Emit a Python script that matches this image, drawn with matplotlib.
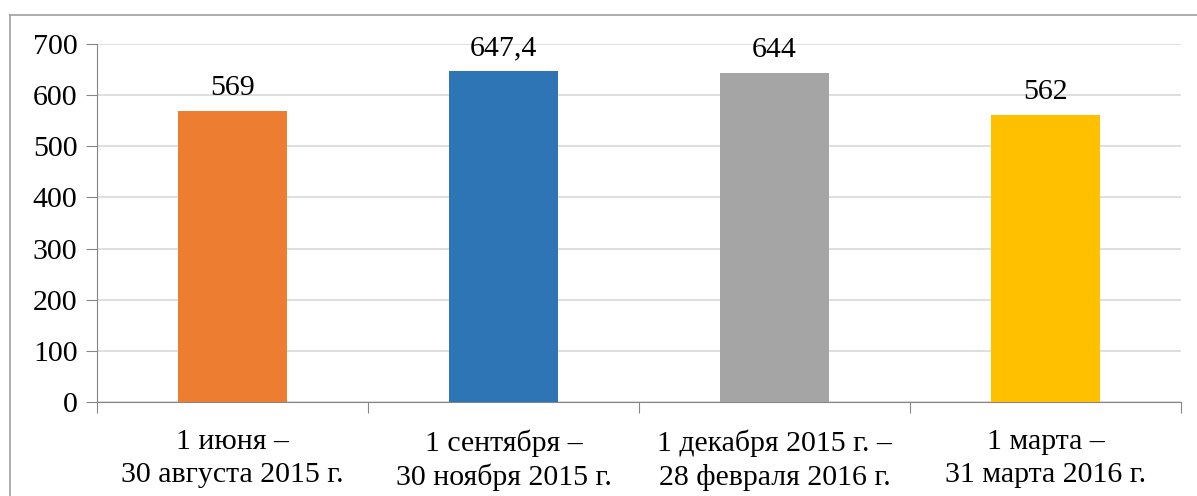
import matplotlib.pyplot as plt
from matplotlib.lines import Line2D

periods = ["1 июня –\n30 августа 2015 г.",
           "1 сентября –\n30 ноября 2015 г.",
           "1 декабря 2015 г. –\n28 февраля 2016 г.",
           "1 марта –\n31 марта 2016 г."]
values = [569, 647.4, 644, 562]
value_labels = ["569", "647,4", "644", "562"]
bar_colors = ["#ED7D31", "#2E75B6", "#A5A5A5", "#FFC000"]

plt.rcParams['font.family'] = 'serif'
plt.rcParams['font.serif'] = ['Liberation Serif', 'Times New Roman', 'DejaVu Serif']

fig = plt.figure(figsize=(11.97, 4.96), dpi=100)
ax = fig.add_axes([0.081, 0.1895, 0.9056, 0.7218])

x = range(len(values))
bars = ax.bar(x, values, width=0.4, color=bar_colors, zorder=3)

for b, lab in zip(bars, value_labels):
    ax.annotate(lab, (b.get_x() + b.get_width() / 2, b.get_height()),
                xytext=(0, 7), textcoords='offset points',
                ha='center', va='bottom', fontsize=21.5)

ax.set_xlim(-0.5, len(values) - 0.5)
ax.set_ylim(0, 700)
ax.set_yticks(range(0, 701, 100))
ax.yaxis.grid(True, color='#D9D9D9', linewidth=1.2, zorder=0)
ax.set_axisbelow(True)

ax.set_xticks([i - 0.5 for i in range(len(values) + 1)])
ax.set_xticklabels([])
ax.set_xticks(list(x), minor=True)
ax.set_xticklabels(periods, minor=True, fontsize=21.5, linespacing=1.33)
ax.tick_params(axis='x', which='minor', length=0, pad=19.5)
ax.tick_params(axis='x', which='major', length=8, color='#868686')
ax.tick_params(axis='y', length=8, color='#868686', labelsize=21.5, pad=6)

for s in ['top', 'right']:
    ax.spines[s].set_visible(False)
ax.spines['left'].set_color('#868686')
ax.spines['bottom'].set_color('#868686')

# outer chart frame
fx = 10 / 1197
fy = 1 - 15 / 496
fig.add_artist(Line2D([fx, 1.0], [fy, fy], transform=fig.transFigure, color='#A0A0A0', linewidth=1.2))
fig.add_artist(Line2D([fx, fx], [fy, 0.0], transform=fig.transFigure, color='#A0A0A0', linewidth=1.2))

fig.savefig("out.png", dpi=100)
